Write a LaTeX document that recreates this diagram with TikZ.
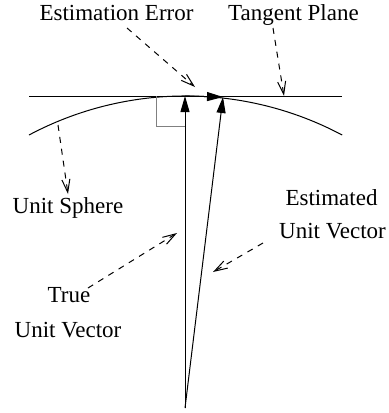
\documentclass[tikz,border=0pt]{standalone}
\usepackage{fontspec}
\setmainfont{Liberation Serif}
\usetikzlibrary{arrows.meta}
\begin{document}
\begin{tikzpicture}[x=0.5pt, y=-0.5pt, line width=0.5pt,
    vettore/.style={-{Triangle[length=8pt,width=4.5pt]}},
    richiamo/.style={dash pattern=on 3pt off 3pt, -{Straight Barb[length=6.5pt,width=4pt]}},
    etichetta/.style={anchor=base, inner sep=0pt, font=\fontsize{11.5}{14}\selectfont}]
    \useasboundingbox (0,0) rectangle (389,413);

    % Piano tangente
    \coordinate (pt_sx) at (29,96);
    \coordinate (pt_dx) at (342,96);
    \draw (pt_sx) -- (pt_dx);

    % Sfera unitaria (arco)
    \draw (29,135) arc[start angle=-118, end angle=-62, radius=333.5];

    % Angolo retto
    \draw[gray] (156,96) -- (156,126) -- (185,126);

    % Origine e vettori
    \coordinate (O) at (185,408);
    \coordinate (vero) at (185,96);
    \coordinate (stima) at (223,97);
    \draw[vettore] (O) -- (vero);
    \draw[vettore] (O) -- (stima);
    \draw[vettore] (vero) -- (stima);

    % Etichette
    \node[etichetta] (errore) at (116.5,20) {Estimation Error};
    \node[etichetta] (piano) at (293.5,20) {Tangent Plane};
    \node[etichetta] (sfera) at (68,213) {Unit Sphere};
    \node[etichetta] (stimato1) at (331.5,205) {Estimated};
    \node[etichetta] (stimato2) at (332.5,238) {Unit Vector};
    \node[etichetta] (vero1) at (69,302) {True};
    \node[etichetta] (vero2) at (68,337) {Unit Vector};

    % Frecce di richiamo
    \coordinate (r_err_a) at (127,28);  \coordinate (r_err_b) at (195,87);
    \coordinate (r_pia_a) at (273,28);  \coordinate (r_pia_b) at (284,96);
    \coordinate (r_sfe_a) at (58,125);  \coordinate (r_sfe_b) at (68,194);
    \coordinate (r_ver_a) at (88,288);  \coordinate (r_ver_b) at (177,233);
    \coordinate (r_sti_a) at (263,243); \coordinate (r_sti_b) at (213,272);
    \draw[richiamo] (r_err_a) -- (r_err_b);
    \draw[richiamo] (r_pia_a) -- (r_pia_b);
    \draw[richiamo] (r_sfe_a) -- (r_sfe_b);
    \draw[richiamo] (r_ver_a) -- (r_ver_b);
    \draw[richiamo] (r_sti_a) -- (r_sti_b);
\end{tikzpicture}
\end{document}
